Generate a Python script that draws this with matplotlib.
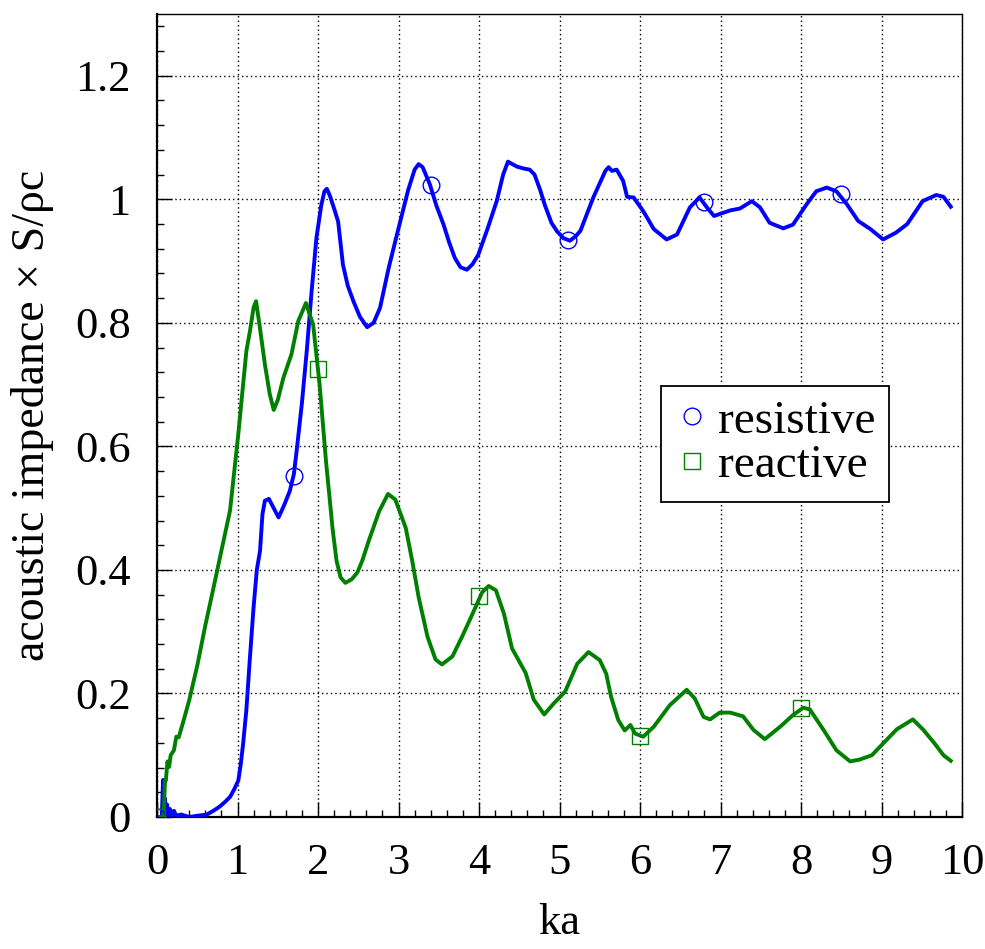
import numpy as np
import matplotlib
matplotlib.use("Agg")
import matplotlib.pyplot as plt
from matplotlib.lines import Line2D
from matplotlib.ticker import MultipleLocator, FixedLocator, FixedFormatter

# resistive part (blue)
res_x = [0.00, 0.03, 0.06, 0.075, 0.085, 0.10, 0.11, 0.125, 0.14, 0.16, 0.18, 0.21, 0.24, 0.30,
         0.40, 0.50, 0.62, 0.70, 0.78, 0.85, 0.91, 0.96, 1.01, 1.04, 1.07, 1.11, 1.15, 1.20,
         1.24, 1.28, 1.31, 1.34, 1.39, 1.45, 1.51, 1.58, 1.65, 1.70, 1.735, 1.80, 1.86, 1.92,
         1.98, 2.04, 2.08, 2.11, 2.15, 2.20, 2.25, 2.31, 2.37, 2.44, 2.52, 2.61, 2.69, 2.77,
         2.88, 3.00, 3.12, 3.20, 3.25, 3.30, 3.39, 3.47, 3.56, 3.63, 3.70, 3.77, 3.85, 3.92,
         3.99, 4.10, 4.22, 4.30, 4.36, 4.40, 4.47, 4.55, 4.63, 4.69, 4.76, 4.82, 4.90, 4.97,
         5.05, 5.13, 5.20, 5.26, 5.42, 5.57, 5.61, 5.65, 5.71, 5.79, 5.84, 5.92, 6.04, 6.17,
         6.33, 6.46, 6.62, 6.74, 6.83, 6.92, 7.12, 7.24, 7.39, 7.49, 7.61, 7.78, 7.90, 8.07,
         8.19, 8.32, 8.44, 8.57, 8.71, 8.86, 9.02, 9.18, 9.32, 9.51, 9.68, 9.77, 9.86]
res_y = [-0.01, 0.0, 0.0, 0.06, 0.005, 0.03, 0.005, 0.02, 0.003, 0.013, 0.002, 0.01, 0.002, 0.004,
         0.0, 0.002, 0.004, 0.01, 0.017, 0.025, 0.033, 0.045, 0.059, 0.085, 0.119, 0.173, 0.25, 0.34,
         0.40, 0.431, 0.49, 0.512, 0.515, 0.50, 0.485, 0.505, 0.528, 0.555, 0.593, 0.67, 0.754, 0.85,
         0.937, 0.99, 1.013, 1.017, 1.005, 0.985, 0.964, 0.894, 0.86, 0.835, 0.81, 0.793, 0.80, 0.824,
         0.89, 0.953, 1.015, 1.048, 1.057, 1.052, 1.024, 0.99, 0.959, 0.93, 0.905, 0.89, 0.886, 0.895,
         0.910, 0.95, 0.997, 1.04, 1.061, 1.058, 1.053, 1.05, 1.048, 1.04, 1.015, 0.99, 0.962, 0.948,
         0.937, 0.933, 0.94, 0.949, 1.003, 1.046, 1.052, 1.046, 1.048, 1.030, 1.004, 1.003, 0.981, 0.952,
         0.935, 0.943, 0.987, 1.003, 0.987, 0.973, 0.982, 0.985, 0.997, 0.987, 0.962, 0.953, 0.959, 0.992,
         1.013, 1.019, 1.013, 0.992, 0.965, 0.952, 0.935, 0.946, 0.960, 0.997, 1.007, 1.004, 0.988]

# reactive part (green)
rea_x = [0.05, 0.08, 0.09, 0.10, 0.11, 0.13, 0.15, 0.17, 0.21, 0.24, 0.27, 0.33, 0.40, 0.50,
         0.60, 0.70, 0.80, 0.907, 1.01, 1.11, 1.155, 1.20, 1.23, 1.27, 1.34, 1.40, 1.45, 1.50,
         1.57, 1.67, 1.755, 1.85, 1.94, 2.02, 2.10, 2.14, 2.18, 2.23, 2.28, 2.34, 2.42, 2.49,
         2.55, 2.63, 2.76, 2.87, 2.96, 3.09, 3.17, 3.25, 3.36, 3.46, 3.54, 3.67, 3.79, 3.92,
         4.04, 4.12, 4.21, 4.31, 4.41, 4.58, 4.68, 4.81, 4.93, 5.07, 5.22, 5.36, 5.50, 5.58,
         5.64, 5.73, 5.81, 5.88, 5.94, 6.04, 6.17, 6.37, 6.58, 6.68, 6.79, 6.87, 6.99, 7.12,
         7.28, 7.41, 7.55, 7.74, 7.90, 8.03, 8.11, 8.28, 8.44, 8.61, 8.73, 8.88, 9.02, 9.19,
         9.39, 9.52, 9.66, 9.77, 9.86]
rea_y = [0.0, 0.0, 0.027, 0.06, 0.059, 0.09, 0.081, 0.10, 0.108, 0.13, 0.129, 0.156, 0.189, 0.245,
         0.31, 0.37, 0.431, 0.496, 0.62, 0.754, 0.787, 0.825, 0.835, 0.80, 0.733, 0.685, 0.659, 0.675,
         0.711, 0.749, 0.803, 0.832, 0.797, 0.70, 0.575, 0.522, 0.468, 0.415, 0.388, 0.379, 0.385, 0.396,
         0.415, 0.447, 0.495, 0.523, 0.514, 0.468, 0.415, 0.356, 0.292, 0.255, 0.247, 0.260, 0.292, 0.329,
         0.364, 0.374, 0.367, 0.329, 0.273, 0.233, 0.190, 0.166, 0.184, 0.203, 0.248, 0.267, 0.254, 0.232,
         0.195, 0.157, 0.140, 0.149, 0.135, 0.130, 0.146, 0.181, 0.206, 0.192, 0.162, 0.158, 0.169, 0.169,
         0.163, 0.141, 0.126, 0.146, 0.165, 0.177, 0.174, 0.141, 0.108, 0.090, 0.093, 0.100, 0.119, 0.142,
         0.158, 0.141, 0.119, 0.100, 0.091]

# open markers drawn on the curves
res_mk_x = [0.0, 1.7, 3.4, 5.1, 6.8, 8.5]
res_mk_y = [0.0, 0.552, 1.023, 0.934, 0.995, 1.008]
rea_mk_x = [0.0, 2.0, 4.0, 6.0, 8.0]
rea_mk_y = [0.0, 0.725, 0.358, 0.131, 0.177]

x_ticks = list(range(0, 11))
x_labels = [str(v) for v in x_ticks]
y_ticks = [0, 0.2, 0.4, 0.6, 0.8, 1.0, 1.2]
y_labels = ["0", "0.2", "0.4", "0.6", "0.8", "1", "1.2"]

BLUE = "#0000ff"
GREEN = "#008000"
serif = ["Liberation Serif", "DejaVu Serif"]

plt.rcParams["font.family"] = serif

fig = plt.figure(figsize=(9.85, 9.49), dpi=100)
ax = fig.add_axes((157 / 985, 132 / 949, 805 / 985, 803 / 949))

ax.plot(res_x, res_y, color=BLUE, lw=2.8, solid_joinstyle="round", zorder=3)
ax.plot(rea_x, rea_y, color=GREEN, lw=2.8, solid_joinstyle="round", zorder=3)
ax.plot(res_mk_x, res_mk_y, ls="none", marker="o", ms=12, mfc="none", mec=BLUE, mew=1.0, zorder=4)
ax.plot(rea_mk_x, rea_mk_y, ls="none", marker="s", ms=11, mfc="none", mec=GREEN, mew=1.0, zorder=4)

ax.set_xlim(0, 10)
ax.set_ylim(0, 1.3)
ax.xaxis.set_major_locator(FixedLocator(x_ticks))
ax.xaxis.set_major_formatter(FixedFormatter(x_labels))
ax.xaxis.set_minor_locator(MultipleLocator(0.2))
ax.yaxis.set_major_locator(FixedLocator(y_ticks))
ax.yaxis.set_major_formatter(FixedFormatter(y_labels))
ax.yaxis.set_minor_locator(MultipleLocator(0.04))

ax.tick_params(which="both", direction="in", top=False, right=False, colors="black", width=1.0)
ax.tick_params(which="major", length=11, labelsize=32)
ax.tick_params(axis="y", which="major", pad=19)
ax.tick_params(axis="x", which="major", pad=19)
ax.tick_params(which="minor", length=5)

ax.grid(True, which="major", color="black", ls=(0, (1, 2.2)), lw=1.0)
ax.set_axisbelow(False)

for side in ["left", "bottom"]:
    ax.spines[side].set_linewidth(1.6)
for side in ["top", "right"]:
    ax.spines[side].set_linewidth(1.0)

ax.set_xlabel("ka", fontsize=32)
ax.xaxis.set_label_coords(0.5, -0.107)
ax.set_ylabel("acoustic impedance \u00d7 S/\u03c1c", fontsize=33)
ax.yaxis.set_label_coords(-0.128, 0.5)

handles = [Line2D([], [], ls="none", marker="o", ms=12, mfc="none", mec=BLUE, mew=1.0),
           Line2D([], [], ls="none", marker="s", ms=11, mfc="none", mec=GREEN, mew=1.0)]
leg = ax.legend(handles, ["resistive", "reactive"], loc="upper left",
                bbox_to_anchor=(0.626, 0.537), fontsize=34, frameon=True, fancybox=False,
                framealpha=1.0, edgecolor="black", borderpad=0.3, labelspacing=0.03,
                handlelength=0.7, handletextpad=0.2, borderaxespad=0.0)
leg.get_frame().set_linewidth(1.3)

fig.savefig("out.png", dpi=100)
